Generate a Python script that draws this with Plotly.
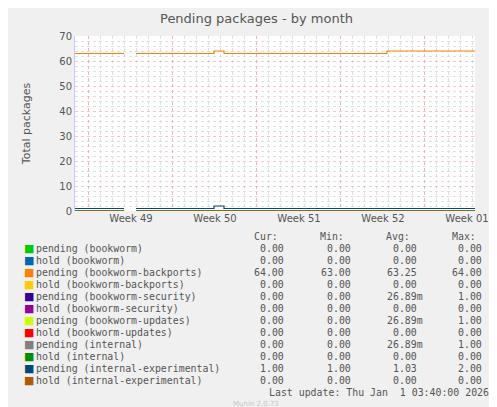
import plotly.graph_objects as go

# step points shared by the series (gap where no data around Dec 1)
times = ["2025-11-26 08:00", "2025-11-30 10:00", "2025-11-30 10:01", "2025-12-01 10:00",
         "2025-12-07 22:00", "2025-12-08 18:00", "2025-12-22 08:00", "2025-12-29 16:00"]
backports = [63, 63, None, 63, 64, 63, 64, 64]
experimental = [1, 1, None, 1, 2, 1, 1, 1]
zeros = [0, 0, None, 0, 0, 0, 0, 0]

names = ["pending (bookworm)", "hold (bookworm)", "pending (bookworm-backports)",
         "hold (bookworm-backports)", "pending (bookworm-security)", "hold (bookworm-security)",
         "pending (bookworm-updates)", "hold (bookworm-updates)", "pending (internal)",
         "hold (internal)", "pending (internal-experimental)", "hold (internal-experimental)"]
colors = ["#00CC00", "#0066B3", "#FF8000", "#FFCC00", "#330099", "#990099",
          "#CCFF00", "#FF0000", "#808080", "#008F00", "#00487D", "#B35A00"]
cur = ["0.00", "0.00", "64.00", "0.00", "0.00", "0.00", "0.00", "0.00", "0.00", "0.00", "1.00", "0.00"]
mins = ["0.00", "0.00", "63.00", "0.00", "0.00", "0.00", "0.00", "0.00", "0.00", "0.00", "1.00", "0.00"]
avgs = ["0.00", "0.00", "63.25", "0.00", "26.89m", "0.00", "26.89m", "0.00", "26.89m", "0.00", "1.03", "0.00"]
maxs = ["0.00", "0.00", "64.00", "0.00", "1.00", "0.00", "1.00", "0.00", "1.00", "0.00", "2.00", "0.00"]

week_ticks = ["2025-12-01", "2025-12-08", "2025-12-15", "2025-12-22", "2025-12-29"]
week_labels = ["Week 49", "Week 50", "Week 51", "Week 52", "Week 01"]
grid_ticks = ["2025-11-27 10:00", "2025-12-04 10:00", "2025-12-11 10:00",
              "2025-12-18 10:00", "2025-12-25 10:00"]

series = {2: backports, 10: experimental}

fig = go.Figure()
for i, n in enumerate(names):
    fig.add_trace(go.Scatter(x=times, y=series.get(i, zeros), mode="lines", line_shape="hv",
                             line=dict(color=colors[i], width=1.2), name=n, showlegend=False))
# invisible trace for the grid axis
fig.add_trace(go.Scatter(x=[times[0], times[-1]], y=[0, 0], xaxis="x2", mode="lines",
                         line=dict(width=0), showlegend=False, hoverinfo="skip"))

xr = [times[0], times[-1]]
fig.update_layout(
    width=497, height=407, paper_bgcolor="#F0F0F0", plot_bgcolor="white",
    margin=dict(l=67, r=30, t=28, b=204, autoexpand=False),
    font=dict(family="DejaVu Sans", size=10, color="#555555"),
    title=dict(text="Pending packages - by month", x=0.5, y=0.985, yanchor="top",
               font=dict(size=13, color="#555555")),
    xaxis=dict(range=xr, tickvals=week_ticks, ticktext=week_labels, showgrid=False,
               zeroline=False, showline=False, ticks="", tickfont=dict(size=10),
               automargin=False),
    xaxis2=dict(range=xr, overlaying="x", tickvals=grid_ticks, showticklabels=False,
                showgrid=True, gridcolor="rgba(240,150,150,0.55)", griddash="dot", gridwidth=1,
                automargin=False,
                minor=dict(dtick=86400000, tick0="2025-11-27 10:00", showgrid=True,
                           gridcolor="#E0E0E0", griddash="dot")),
    yaxis=dict(range=[0, 70], dtick=10, showgrid=True, gridcolor="rgba(240,150,150,0.55)",
               griddash="dot", zeroline=False, showline=True, linecolor="#C8C8FF",
               ticks="", automargin=False,
               minor=dict(dtick=2, showgrid=True, gridcolor="#E0E0E0", griddash="dot"),
               title=dict(text="Total packages", font=dict(size=11), standoff=26)),
)

mono = dict(family="DejaVu Sans Mono", size=9.9, color="#555555")
ann = []
def txt(x, y, t, anchor="left", font=mono):
    ann.append(dict(x=x, y=y, xref="paper", yref="paper", text=t, showarrow=False,
                    xanchor=anchor, yanchor="middle", font=font))
def px(x):
    return (x - 67) / 400
def py(y):
    return (203 - y) / 175

for hx, h in zip([272, 338, 404, 470], ["Cur:", "Min:", "Avg:", "Max:"]):
    txt(px(hx), py(228), h, "right")
for i, n in enumerate(names):
    y = py(240 + 12 * i)
    ann.append(dict(x=px(14), y=y, xref="paper", yref="paper", text="■", showarrow=False,
                    xanchor="left", yanchor="middle",
                    font=dict(family="DejaVu Sans", size=11, color=colors[i])))
    txt(px(26), y, n)
    txt(px(278), y, cur[i], "right")
    txt(px(345), y, mins[i], "right")
    a = avgs[i]
    txt(px(417), y, a if a.endswith("m") else a + " ", "right")
    txt(px(476), y, maxs[i], "right")
txt(px(483), py(384), "Last update: Thu Jan  1 03:40:00 2026", "right")
txt(px(248), py(396), "Munin 2.0.73", "center", dict(family="DejaVu Sans", size=7, color="#C8C8C8"))
ann.append(dict(x=px(485), y=py(58), xref="paper", yref="paper", text="RRDTOOL / TOBI OETIKER",
                showarrow=False, textangle=90, xanchor="center", yanchor="middle",
                font=dict(family="DejaVu Sans", size=7, color="#C8C8C8")))
fig.update_layout(annotations=ann)

fig.write_html("out.html")
